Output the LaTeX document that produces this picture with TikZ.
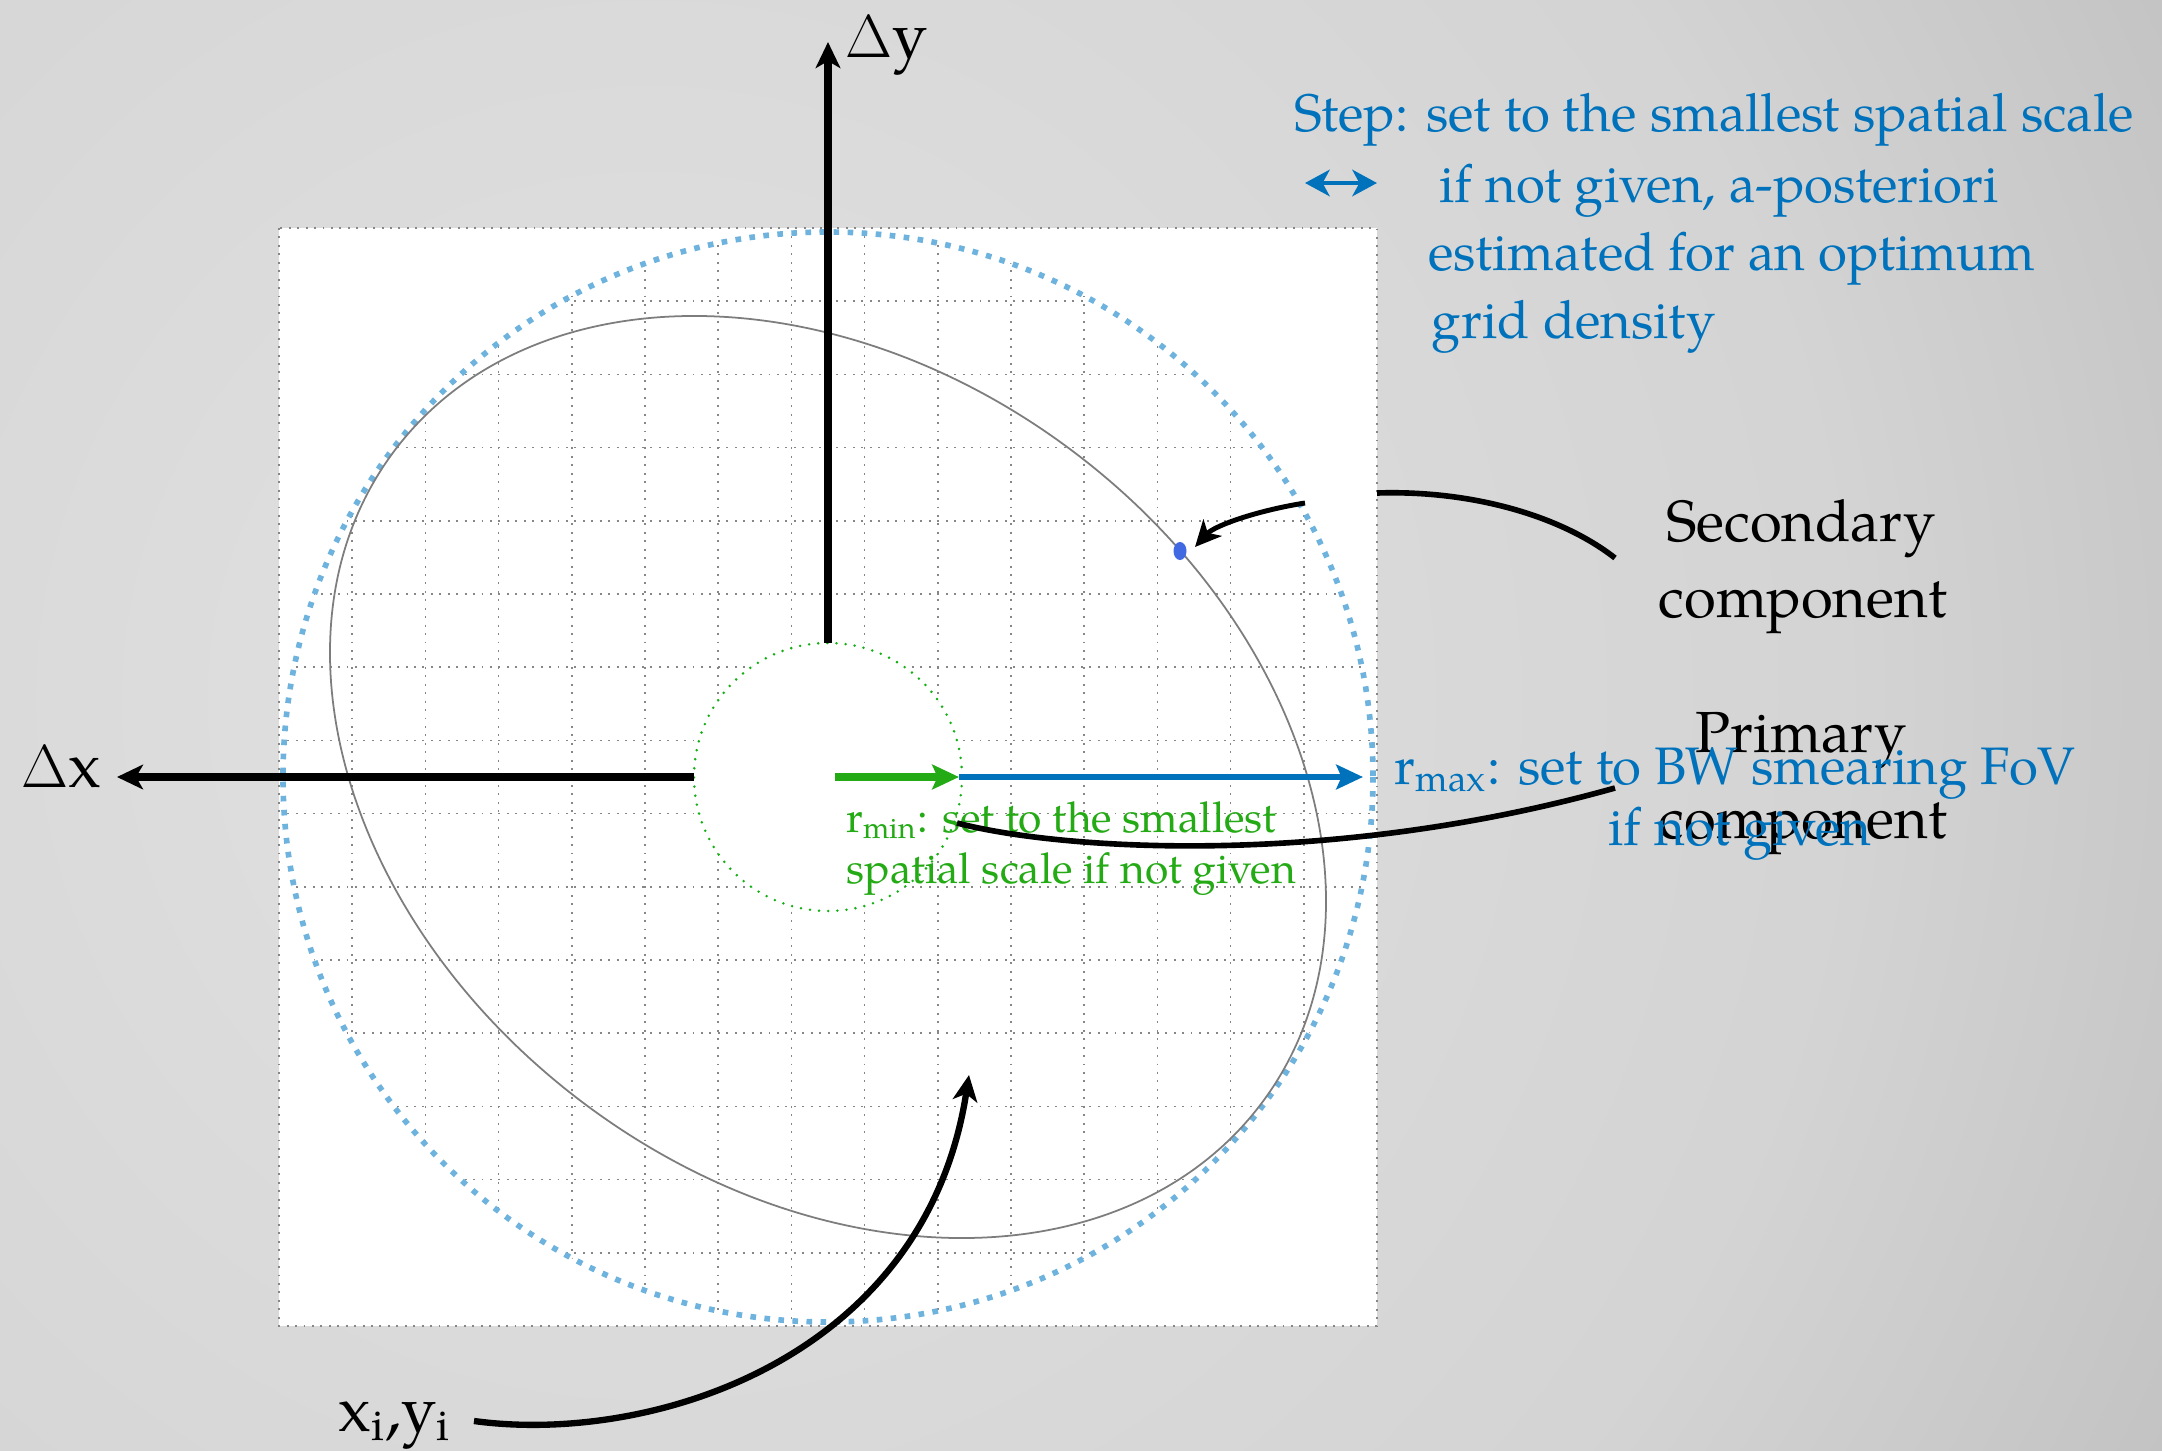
\documentclass[tikz,border=0pt]{standalone}
\usepackage{fontspec}
\setmainfont{TeX Gyre Pagella}
\usetikzlibrary{arrows.meta}
\definecolor{bgA}{gray}{0.885}
\definecolor{bgB}{gray}{0.830}
\definecolor{bgC}{gray}{0.750}
\definecolor{bgD}{gray}{0.620}
\definecolor{bgE}{gray}{0.560}
\pgfdeclareradialshading{bgshade}{\pgfpoint{0bp}{0bp}}{color(0bp)=(bgA); color(15.8bp)=(bgB); color(23.7bp)=(bgC); color(36.8bp)=(bgD); color(50bp)=(bgE)}
\definecolor{skyblue}{RGB}{110,178,222}
\definecolor{txtblue}{RGB}{0,114,188}
\definecolor{txtgreen}{RGB}{35,170,20}
\definecolor{dotgreen}{RGB}{20,175,20}
\definecolor{gridgray}{RGB}{135,135,135}
\definecolor{ellgray}{RGB}{125,125,125}
\definecolor{dotblue}{RGB}{65,105,225}
\tikzset{
  gridline/.style={gridgray, line width=0.5pt, dash pattern=on 0.55pt off 1.85pt},
  fovcircle/.style={skyblue, line width=1.6pt, dash pattern=on 1.6pt off 2.4pt},
  mincircle/.style={dotgreen, line width=0.8pt, line cap=round, dash pattern=on 0pt off 2.6pt},
  axisline/.style={black, line width=2pt, -{Stealth[length=7.4pt,width=7pt,inset=2pt]}},
  callout/.style={black, line width=1.6pt},
  callarrow/.style={black, line width=1.6pt, -{Stealth[length=7.4pt,width=7pt,inset=2pt]}},
  rarrow/.style={line width=2pt, -{Stealth[length=7.6pt,width=7pt,inset=1.5pt]}},
  bigtxt/.style={inner sep=0pt, font=\fontsize{18}{21}\selectfont},
  comptxt/.style={inner sep=0pt, font=\fontsize{16.5}{20}\selectfont},
  bluetxt/.style={inner sep=0pt, text=txtblue, font=\fontsize{15}{19.5}\selectfont},
  greentxt/.style={inner sep=0pt, text=txtgreen, font=\fontsize{12.1}{14.5}\selectfont}
}
\begin{document}
\begin{tikzpicture}[x=0.01cm,y=-0.01cm]
\useasboundingbox (0,0) rectangle (2162,1451);
% background
\begin{scope}
  \clip (0,0) rectangle (2162,1451);
  \shade[shading=bgshade] (650,700) circle [radius=1900];
\end{scope}
% white field
\fill[white] (279,228) rectangle (1377,1326);
\draw[gridline] (279,228) rectangle (1377,1326);
\begin{scope}
  \clip (828,777) circle [radius=545];
  \foreach \k in {-7,...,6} {
    \draw[gridline] ({828+(\k+0.5)*73.2},228) -- ({828+(\k+0.5)*73.2},1326);
    \draw[gridline] (279,{777+(\k+0.5)*73.2}) -- (1377,{777+(\k+0.5)*73.2});
  }
\end{scope}
\draw[fovcircle] (828,777) circle [radius=545];
% primary component ellipse
\draw[ellgray, line width=0.5pt, rotate around={-37:(828,777)}] (828,777) ellipse [x radius=542.6, y radius=407.5];
% secondary component
\fill[dotblue] (1180,551) ellipse [x radius=6.5, y radius=9];
\coordinate (sec) at (1195,547);
% r_min circle
\fill[white] (828,777) circle [radius=134];
\draw[mincircle] (828,777) circle [radius=134];
% axes
\coordinate (ytop) at (828,643);
\coordinate (yend) at (828,42);
\coordinate (xleft) at (694,777);
\coordinate (xend) at (117,777);
\draw[axisline] (ytop) -- (yend);
\draw[axisline] (xleft) -- (xend);
% r arrows
\coordinate (o) at (835,777);
\coordinate (rmin) at (959,777);
\coordinate (rmax) at (1363,777);
\draw[rarrow, txtblue, line width=1.7pt] (rmin) -- (rmax);
\draw[rarrow, txtgreen] (o) -- (rmin);
% labels
\node[bigtxt, anchor=base west] (dy) at (845,57) {$\Delta$y};
\node[bigtxt, anchor=base west] (dx) at (21,787) {$\Delta$x};
\node[bigtxt, anchor=base west] (xy) at (338,1431) {x\textsubscript{i},y\textsubscript{i}};
\node[comptxt, anchor=base] (sec1) at (1801,541) {Secondary};
\node[comptxt, anchor=base] (sec2) at (1803,617) {component};
\node[comptxt, anchor=base] (pri1) at (1801,752) {Primary};
\node[comptxt, anchor=base] (pri2) at (1803,838) {component};
\node[bluetxt, anchor=base west] (st1) at (1294,131) {Step: set to the smallest spatial scale};
\node[bluetxt, anchor=base west] (st2) at (1439,202) {if not given, a-posteriori};
\node[bluetxt, anchor=base west] (st3) at (1428,270) {estimated for an optimum};
\node[bluetxt, anchor=base west] (st4) at (1431,338) {grid density};
\coordinate (stA) at (1305,183);
\coordinate (stB) at (1377,183);
\draw[txtblue, line width=1.3pt, {Stealth[length=7pt,width=7.5pt,inset=2pt]}-{Stealth[length=7pt,width=7.5pt,inset=2pt]}] (stA) -- (stB);
\node[bluetxt, anchor=base west] (rx1) at (1394,784) {r\textsubscript{max}: set to BW smearing FoV};
\node[bluetxt, anchor=base] (rx2) at (1740,845) {if not given};
\node[greentxt, anchor=base west] (rn1) at (846,832) {r\textsubscript{min}: set to the smallest};
\node[greentxt, anchor=base west] (rn2) at (846,883) {spatial scale if not given};
% callouts
\coordinate (secA) at (1377,493);
\coordinate (secB) at (1615,558);
\draw[callout] (secA) .. controls (1470,490) and (1560,515) .. (secB);
\coordinate (secC) at (1305,503);
\draw[callarrow, line width=1.4pt] (secC) .. controls (1260,510) and (1215,525) .. (sec);
\coordinate (priA) at (957,823);
\coordinate (priB) at (1615,788);
\draw[callout] (priA) .. controls (1060,850) and (1330,868) .. (priB);
\coordinate (xyA) at (474,1421);
\coordinate (xyB) at (969,1075);
\draw[callarrow, line width=1.8pt] (xyA) .. controls (650,1445) and (925,1360) .. (xyB);
\end{tikzpicture}
\end{document}
